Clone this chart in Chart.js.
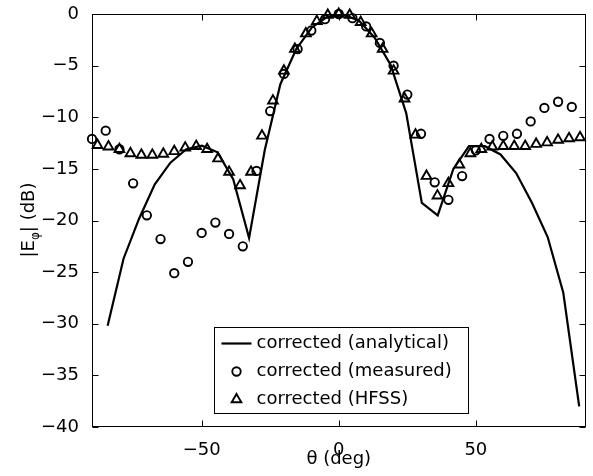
<!DOCTYPE html>
<html>
<head>
<meta charset="utf-8">
<script src="https://cdn.jsdelivr.net/npm/chart.js@4.4.1/dist/chart.umd.min.js"></script>
<style>
  html, body { margin: 0; padding: 0; background: #fff; }
  canvas { display: block; }
</style>
</head>
<body>
<canvas id="pattern-chart" width="593" height="476"></canvas>
<script>
// analytical curve (degrees, dB)
const analyticalTheta = [-84.3, -78.5, -72.8, -67.1, -61.4, -55.6, -49.9, -44.2, -38.5, -32.7, -27.0, -21.3, -15.5, -9.8, -4.1, 1.7, 7.4, 13.1, 18.9, 24.6, 30.3, 36.1, 41.8, 47.5, 53.3, 59.0, 64.7, 70.5, 76.2, 81.9, 87.7];
const analyticalDb = [-30.2, -23.7, -19.8, -16.5, -14.4, -13.1, -12.75, -13.4, -16.0, -21.7, -13.2, -6.8, -3.4, -1.3, -0.25, -0.05, -0.65, -2.3, -4.9, -9.6, -18.3, -19.5, -15.0, -12.8, -12.8, -13.6, -15.4, -18.3, -21.6, -27.0, -38.0];

// measured
const measuredTheta = [-90, -85, -80, -75, -70, -65, -60, -55, -50, -45, -40, -35, -30, -25, -20, -15, -10, -5, 0, 5, 10, 15, 20, 25, 30, 35, 40, 45, 50, 55, 60, 65, 70, 75, 80, 85];
const measuredDb = [-12.1, -11.3, -13.1, -16.4, -19.5, -21.8, -25.1, -24.0, -21.2, -20.2, -21.3, -22.5, -15.2, -9.4, -5.8, -3.4, -1.6, -0.5, 0, -0.4, -1.2, -2.8, -5.0, -7.8, -11.6, -16.3, -18.0, -15.7, -13.2, -12.1, -11.8, -11.6, -10.4, -9.1, -8.5, -9.0];

// HFSS
const hfssTheta = [-88, -84, -80, -76, -72, -68, -64, -60, -56, -52, -48, -44, -40, -36, -32, -28, -24, -20, -16, -12, -8, -4, 0, 4, 8, 12, 16, 20, 24, 28, 32, 36, 40, 44, 48, 52, 56, 60, 64, 68, 72, 76, 80, 84, 88];
const hfssDb = [-12.7, -12.85, -13.1, -13.5, -13.65, -13.65, -13.55, -13.3, -12.95, -12.8, -13.1, -14.0, -15.3, -16.6, -15.3, -11.8, -8.4, -5.5, -3.4, -1.9, -0.7, -0.1, 0, -0.1, -0.8, -1.9, -3.4, -5.5, -8.2, -11.7, -15.7, -17.6, -16.4, -14.6, -13.5, -13.1, -12.85, -12.8, -12.8, -12.8, -12.6, -12.45, -12.2, -12.05, -11.95];

const xTicks = [-50, 0, 50];
const seriesLabels = ["corrected (analytical)", "corrected (measured)", "corrected (HFSS)"];

const FONT = "DejaVu Sans";
const toPoints = (xs, ys) => xs.map((x, i) => ({ x: x, y: ys[i] }));
const minus = (v) => String(v).replace("-", "\u2212");

// box with inward ticks on all four sides
const frame = {
  id: "frame",
  afterDraw(chart) {
    const { ctx, chartArea: a, scales } = chart;
    const l = Math.round(a.left) + 0.5, r = Math.round(a.right) - 0.5;
    const t = Math.round(a.top) + 0.5, b = Math.round(a.bottom) - 0.5;
    const len = 6;
    ctx.save();
    ctx.strokeStyle = "#000";
    ctx.lineWidth = 1;
    ctx.strokeRect(l, t, r - l, b - t);
    ctx.beginPath();
    scales.x.ticks.forEach((tk) => {
      const px = Math.round(scales.x.getPixelForValue(tk.value)) + 0.5;
      ctx.moveTo(px, b); ctx.lineTo(px, b - len);
      ctx.moveTo(px, t); ctx.lineTo(px, t + len);
    });
    scales.y.ticks.forEach((tk) => {
      const py = Math.round(scales.y.getPixelForValue(tk.value)) + 0.5;
      ctx.moveTo(l, py); ctx.lineTo(l + len, py);
      ctx.moveTo(r, py); ctx.lineTo(r - len, py);
    });
    ctx.stroke();
    ctx.restore();
  },
};

// axis titles, y one with subscript phi
const axisTitles = {
  id: "axisTitles",
  afterDraw(chart) {
    const { ctx, chartArea: a } = chart;
    ctx.save();
    ctx.fillStyle = "#000";
    ctx.textBaseline = "middle";
    ctx.textAlign = "center";
    ctx.font = "18px " + FONT;
    ctx.fillText("\u03b8 (deg)", (a.left + a.right) / 2, 459);

    const big = "18px " + FONT, small = "12px " + FONT;
    const parts = [["|E", big, 0], ["\u03c6", small, 5], ["| (dB)", big, 0]];
    let total = 0;
    parts.forEach((p) => { ctx.font = p[1]; total += ctx.measureText(p[0]).width; });
    ctx.translate(34, 220);
    ctx.rotate(-Math.PI / 2);
    ctx.textAlign = "left";
    ctx.textBaseline = "alphabetic";
    let x = -total / 2;
    parts.forEach((p) => {
      ctx.font = p[1];
      ctx.fillText(p[0], x, p[2]);
      x += ctx.measureText(p[0]).width;
    });
    ctx.restore();
  },
};

const boxLegend = {
  id: "boxLegend",
  afterDraw(chart) {
    const { ctx, chartArea: a } = chart;
    const bx = a.left + 122.5, by = a.top + 313.5, bw = 254, bh = 86;
    const mx = bx + 22, tx = bx + 42;
    const rows = [by + 16, by + 44, by + 72];
    ctx.save();
    ctx.fillStyle = "#fff";
    ctx.fillRect(bx, by, bw, bh);
    ctx.strokeStyle = "#000";
    ctx.lineWidth = 1;
    ctx.strokeRect(bx, by, bw, bh);

    ctx.lineWidth = 2.2;
    ctx.beginPath();
    ctx.moveTo(bx + 7, rows[0]); ctx.lineTo(bx + 37, rows[0]);
    ctx.stroke();

    ctx.lineWidth = 1.9;
    ctx.beginPath();
    ctx.arc(mx, rows[1], 4.2, 0, Math.PI * 2);
    ctx.stroke();

    const r = 5.6;
    ctx.beginPath();
    ctx.moveTo(mx, rows[2] - r);
    ctx.lineTo(mx + r * Math.cos(Math.PI / 6), rows[2] + r / 2);
    ctx.lineTo(mx - r * Math.cos(Math.PI / 6), rows[2] + r / 2);
    ctx.closePath();
    ctx.stroke();

    ctx.fillStyle = "#000";
    ctx.font = "18px " + FONT;
    ctx.textBaseline = "middle";
    ctx.textAlign = "left";
    seriesLabels.forEach((s, i) => ctx.fillText(s, tx, rows[i]));
    ctx.restore();
  },
};

new Chart(document.getElementById("pattern-chart"), {
  type: "line",
  data: {
    datasets: [
      {
        label: seriesLabels[0],
        data: toPoints(analyticalTheta, analyticalDb),
        borderColor: "#000",
        borderWidth: 2.2,
        pointRadius: 0,
        tension: 0,
        clip: false,
      },
      {
        label: seriesLabels[1],
        data: toPoints(measuredTheta, measuredDb),
        showLine: false,
        pointStyle: "circle",
        pointRadius: 4.2,
        pointBorderWidth: 1.9,
        pointBorderColor: "#000",
        pointBackgroundColor: "rgba(0,0,0,0)",
        borderColor: "#000",
        clip: false,
      },
      {
        label: seriesLabels[2],
        data: toPoints(hfssTheta, hfssDb),
        showLine: false,
        pointStyle: "triangle",
        pointRadius: 5.6,
        pointBorderWidth: 1.9,
        pointBorderColor: "#000",
        pointBackgroundColor: "rgba(0,0,0,0)",
        borderColor: "#000",
        clip: false,
      },
    ],
  },
  options: {
    responsive: false,
    animation: false,
    layout: { padding: { top: 9, right: 6, left: 0, bottom: 0 } },
    plugins: { legend: { display: false }, tooltip: { enabled: false } },
    scales: {
      x: {
        type: "linear",
        min: -90,
        max: 90,
        afterBuildTicks: (s) => { s.ticks = xTicks.map((v) => ({ value: v })); },
        afterFit: (s) => { s.height = 49; },
        grid: { display: false },
        border: { display: false },
        ticks: {
          color: "#000",
          padding: 6,
          maxRotation: 0,
          font: { family: FONT, size: 18, lineHeight: 1 },
          callback: (v) => minus(v),
        },
      },
      y: {
        min: -40,
        max: 0,
        afterFit: (s) => { s.width = 92; },
        grid: { display: false },
        border: { display: false },
        ticks: {
          stepSize: 5,
          color: "#000",
          padding: 5,
          font: { family: FONT, size: 18, lineHeight: 1 },
          callback: (v) => minus(v),
        },
      },
    },
  },
  plugins: [frame, axisTitles, boxLegend],
});
</script>
</body>
</html>
